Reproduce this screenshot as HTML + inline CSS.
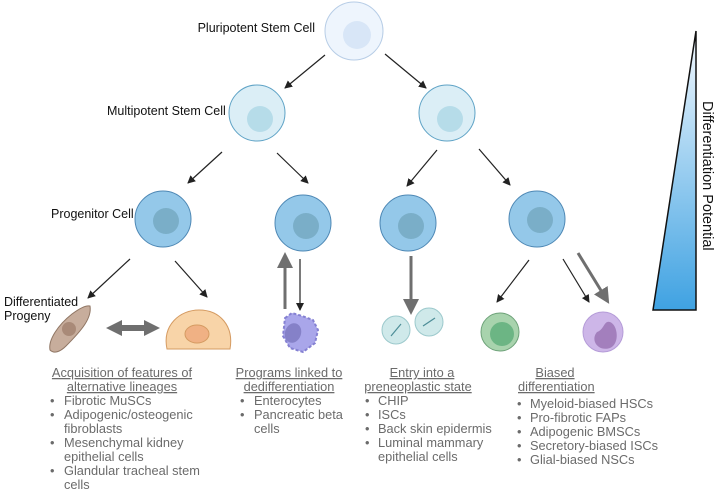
<!DOCTYPE html>
<html><head><meta charset="utf-8"><style>
body{margin:0;background:#fff;}
svg{display:block;font-family:"Liberation Sans",sans-serif;}
.lb{font-size:12.5px;fill:#111;}
.g{font-size:12.8px;fill:#6b6b6b;}
</style></head><body>
<svg width="720" height="491" viewBox="0 0 720 491">
<defs>
<marker id="a" markerWidth="8" markerHeight="8" refX="7" refY="4" orient="auto" markerUnits="userSpaceOnUse"><path d="M0,0 L8,4 L0,8 Z" fill="#222"/></marker>
<marker id="t" markerWidth="16" markerHeight="16" refX="8" refY="8" orient="auto" markerUnits="userSpaceOnUse"><path d="M0,0 L16,8 L0,16 Z" fill="#6f6f6f"/></marker>
<linearGradient id="tri" x1="0" y1="0" x2="0" y2="1"><stop offset="0" stop-color="#f4f9fe"/><stop offset="1" stop-color="#3fa2e2"/></linearGradient>
</defs>
<circle cx="354" cy="31" r="29" fill="#eef5fd" stroke="#b7cde6"/><circle cx="357" cy="35" r="14" fill="#d8e6f7"/>
<g fill="#dbeef6" stroke="#5fa3c6"><circle cx="257" cy="113" r="28"/><circle cx="447" cy="113" r="28"/></g>
<g fill="#b6dce9"><circle cx="260" cy="119" r="13"/><circle cx="450" cy="119" r="13"/></g>
<g fill="#94c8e9" stroke="#4e88b5"><circle cx="163" cy="219" r="28"/><circle cx="303" cy="223" r="28"/><circle cx="408" cy="223" r="28"/><circle cx="537" cy="219" r="28"/></g>
<g fill="#7aaec8"><circle cx="166" cy="221" r="13"/><circle cx="306" cy="226" r="13"/><circle cx="411" cy="226" r="13"/><circle cx="540" cy="220" r="13"/></g>
<g stroke="#222" stroke-width="1.2" marker-end="url(#a)">
<line x1="325" y1="55" x2="285" y2="88"/><line x1="385" y1="54" x2="426" y2="88"/>
<line x1="222" y1="152" x2="188" y2="183"/><line x1="277" y1="153" x2="308" y2="183"/>
<line x1="437" y1="150" x2="407" y2="186"/><line x1="479" y1="149" x2="510" y2="185"/>
<line x1="130" y1="259" x2="88" y2="298"/><line x1="175" y1="261" x2="207" y2="297"/>
<line x1="300" y1="259" x2="300" y2="310"/>
<line x1="529" y1="260" x2="497" y2="302"/><line x1="563" y1="259" x2="589" y2="302"/>
</g>
<g stroke="#6f6f6f" stroke-width="3" marker-end="url(#t)">
<line x1="285" y1="309" x2="285" y2="260"/><line x1="411" y1="256" x2="411" y2="307"/><line x1="578" y1="253" x2="605" y2="297"/>
</g>
<path d="M106,328 L122,320 L122,325 L144,325 L144,320 L160,328 L144,336 L144,331 L122,331 L122,336 Z" fill="#6f6f6f"/>
<path d="M90,306 C92,318 82,330 66,346 C60,352 54,354 50,350 C48,340 58,325 72,314 C80,308 86,305 90,306Z" fill="#c7ad9c" stroke="#8f7563"/>
<circle cx="69" cy="329" r="7" fill="#a98a78"/>
<path d="M167,349 C162,325 180,310 199,310 C220,310 234,326 230,349 Z" fill="#f8d4a8" stroke="#d59b62"/>
<ellipse cx="197" cy="334" rx="12" ry="9" fill="#f0b184" stroke="#d59b62"/>
<path d="M285,318 L292,313 L302,316 L313,320 L318,330 L315,343 L303,352 L290,348 L283,336 Z" fill="#a9a6ea" stroke="#8581d2" stroke-width="2" stroke-dasharray="3 2"/>
<ellipse cx="293" cy="333" rx="8" ry="10" fill="#8581c8" transform="rotate(20 293 333)"/>
<g fill="#cfe9ea" stroke="#9cc9cc"><circle cx="396" cy="330" r="14"/><circle cx="429" cy="322" r="14"/></g>
<g stroke="#4c8d97" stroke-width="1.2"><line x1="391" y1="336" x2="401" y2="324"/><line x1="423" y1="326" x2="435" y2="318"/></g>
<circle cx="500" cy="332" r="19" fill="#a8d3ad" stroke="#6ea279"/><circle cx="502" cy="334" r="12" fill="#6cb584"/>
<circle cx="603" cy="332" r="20" fill="#cdb6e8" stroke="#b59cd8"/>
<path d="M597,332 C590,340 598,352 610,348 C620,344 618,325 610,322 C604,320 604,330 597,332Z" fill="#a37fbd"/>
<path d="M696,31 L696,310 L653,310 Z" fill="url(#tri)" stroke="#111" stroke-width="1.5"/>
<text transform="translate(703,101) rotate(90)" style="font-size:14.5px;fill:#111">Differentiation Potential</text>
<text class="lb" x="315" y="32" text-anchor="end">Pluripotent Stem Cell</text>
<text class="lb" x="107" y="115">Multipotent Stem Cell</text>
<text class="lb" x="51" y="218">Progenitor Cell</text>
<text class="lb" x="4" y="306">Differentiated</text>
<text class="lb" x="4" y="320">Progeny</text>
<g class="g" text-decoration="underline">
<text x="122" y="377" text-anchor="middle">Acquisition of features of</text>
<text x="122" y="391" text-anchor="middle">alternative lineages</text>
<text x="289" y="377" text-anchor="middle">Programs linked to</text>
<text x="289" y="391" text-anchor="middle">dedifferentiation</text>
<text x="422" y="377" text-anchor="middle">Entry into a</text>
<text x="418" y="391" text-anchor="middle">preneoplastic state</text>
<text x="555" y="377" text-anchor="middle">Biased</text>
<text x="518" y="391">differentiation</text>
</g>
<g class="g">
<text x="50" y="405">•</text><text x="64" y="405">Fibrotic MuSCs</text>
<text x="50" y="419">•</text><text x="64" y="419">Adipogenic/osteogenic</text>
<text x="64" y="433">fibroblasts</text>
<text x="50" y="447">•</text><text x="64" y="447">Mesenchymal kidney</text>
<text x="64" y="461">epithelial cells</text>
<text x="50" y="475">•</text><text x="64" y="475">Glandular tracheal stem</text>
<text x="64" y="489">cells</text>
<text x="240" y="405">•</text><text x="254" y="405">Enterocytes</text>
<text x="240" y="419">•</text><text x="254" y="419">Pancreatic beta</text>
<text x="254" y="433">cells</text>
<text x="365" y="405">•</text><text x="378" y="405">CHIP</text>
<text x="365" y="419">•</text><text x="378" y="419">ISCs</text>
<text x="365" y="433">•</text><text x="378" y="433">Back skin epidermis</text>
<text x="365" y="447">•</text><text x="378" y="447">Luminal mammary</text>
<text x="378" y="461">epithelial cells</text>
<text x="517" y="408">•</text><text x="530" y="408">Myeloid-biased HSCs</text>
<text x="517" y="422">•</text><text x="530" y="422">Pro-fibrotic FAPs</text>
<text x="517" y="436">•</text><text x="530" y="436">Adipogenic BMSCs</text>
<text x="517" y="450">•</text><text x="530" y="450">Secretory-biased ISCs</text>
<text x="517" y="464">•</text><text x="530" y="464">Glial-biased NSCs</text>
</g>
</svg>
</body></html>
